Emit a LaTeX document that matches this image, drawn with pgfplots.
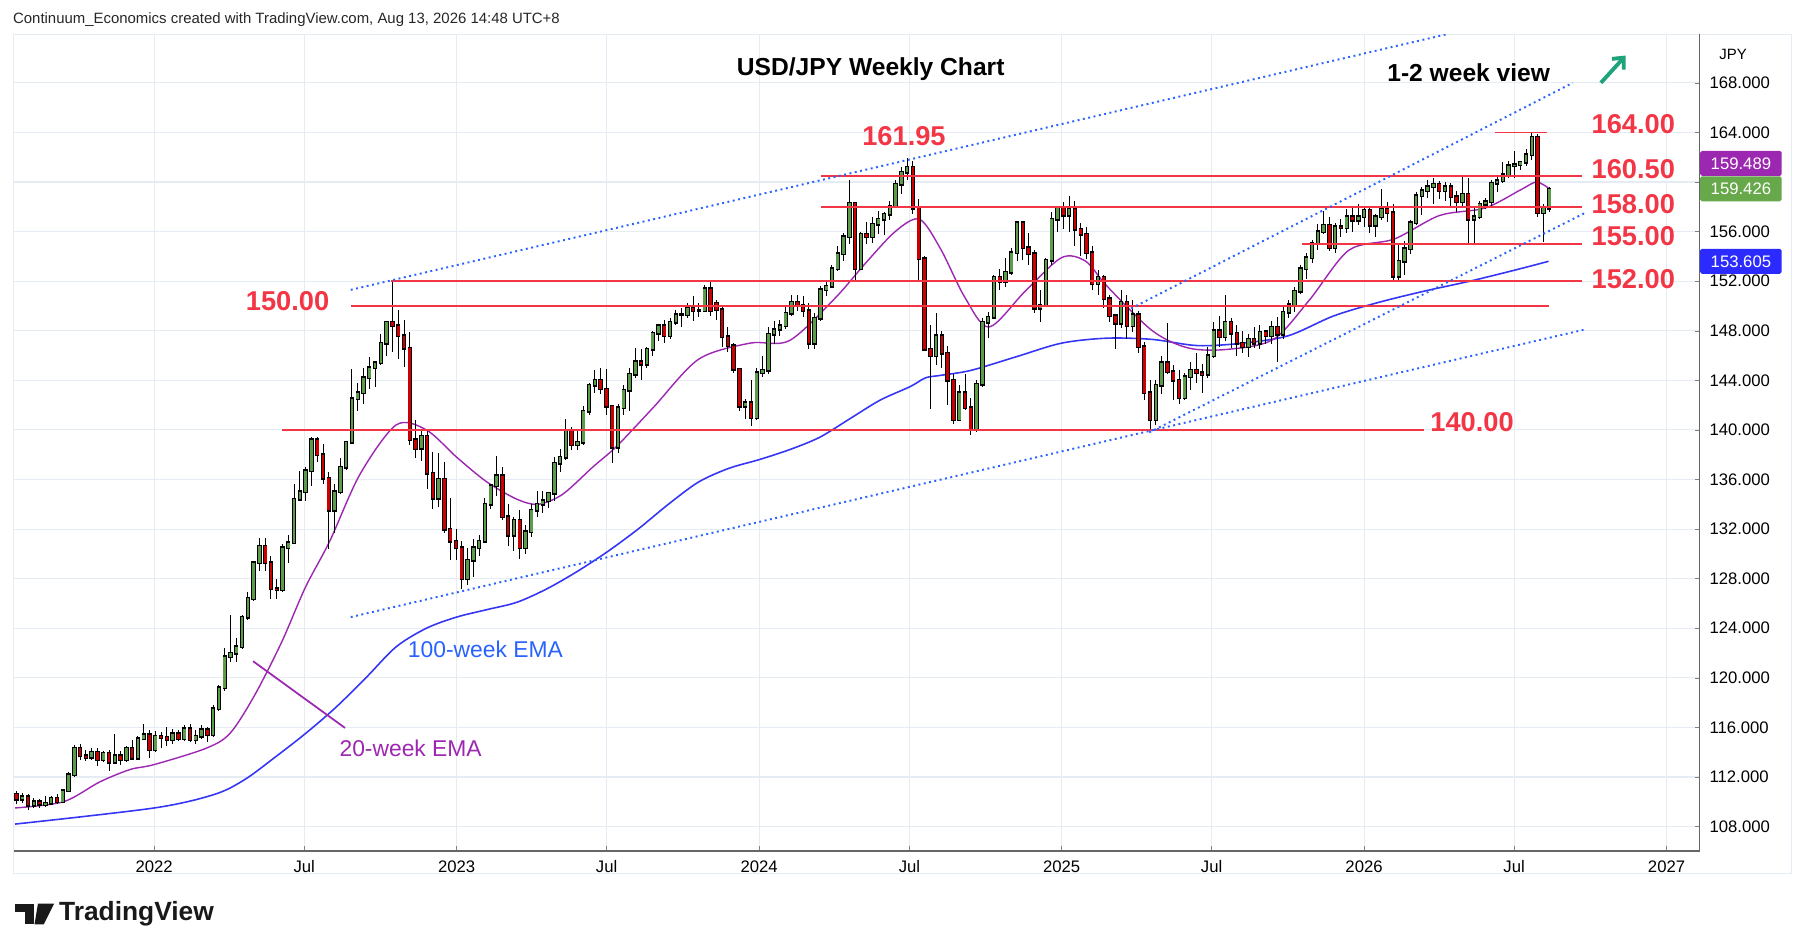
\documentclass[border=0pt]{standalone}
\usepackage{pgfplots}
\pgfplotsset{compat=1.18}
\usepackage{pgfplotstable}
\usetikzlibrary{arrows.meta}
\usepackage{fontspec}
\setmainfont{Liberation Sans}
\definecolor{cgreen}{HTML}{5B9B4A}
\definecolor{cred}{HTML}{CC0000}
\definecolor{lvl}{HTML}{F23645}
\definecolor{dotb}{HTML}{2962FF}
\definecolor{emap}{HTML}{9C27B0}
\definecolor{emab}{HTML}{3535F5}
\definecolor{gridc}{HTML}{E6ECF3}
\definecolor{boxg}{HTML}{66A84A}
\definecolor{boxb}{HTML}{2B2BFF}
\definecolor{arrg}{HTML}{1FA37A}
\pgfplotstableread{
o h l c
110.6 110.9 109.8 110.2
110.2 110.7 109.9 110.4
110.4 110.6 109.3 109.7
109.7 110.3 109.5 110.0
110.0 110.2 109.5 109.8
109.8 110.5 109.6 109.9
109.9 110.5 109.7 110.3
110.3 110.6 109.8 110.0
110.0 111.0 109.9 110.9
110.9 112.4 110.8 112.2
112.2 114.6 112.0 114.3
114.3 114.7 113.4 113.7
113.7 114.2 113.3 113.6
113.6 114.3 113.4 114.0
114.0 114.3 112.9 113.4
113.4 114.1 113.2 113.9
113.9 114.2 112.5 113.2
113.2 115.5 113.1 113.7
113.7 114.1 113.0 113.4
113.4 114.5 113.2 114.3
114.3 115.0 113.4 113.5
113.5 115.3 113.4 115.1
115.1 116.3 115.0 115.4
115.4 115.8 113.5 114.2
114.2 115.7 114.0 115.3
115.3 115.6 114.3 115.2
115.2 116.0 114.5 115.0
115.0 115.9 114.7 115.5
115.5 115.8 114.9 115.1
115.1 116.2 114.9 115.9
115.9 116.3 114.8 115.0
115.0 115.8 114.7 115.3
115.3 116.2 115.1 115.8
115.8 116.0 114.8 115.4
115.4 117.8 115.2 117.5
117.5 119.4 117.3 119.2
119.2 122.4 118.9 121.7
121.7 125.1 121.3 122.0
122.0 123.2 121.3 122.5
122.5 125.1 122.3 124.9
124.9 126.9 124.7 126.4
126.4 129.4 126.2 129.3
129.3 131.3 128.6 130.6
130.6 131.3 128.6 129.3
129.3 129.8 126.4 127.2
127.2 128.0 126.4 127.1
127.1 130.8 126.9 130.5
130.5 131.5 129.3 130.9
130.9 135.6 130.8 134.4
134.4 136.7 134.3 135.0
135.0 137.0 134.3 136.7
136.7 139.4 135.5 139.2
139.2 139.4 137.4 138.0
138.0 138.9 135.6 136.1
136.1 136.6 130.4 133.5
133.5 135.6 131.7 135.0
135.0 137.7 134.8 137.0
137.0 139.1 136.8 139.0
139.0 144.9 138.9 142.5
142.5 143.8 141.5 143.0
143.0 145.0 142.1 144.2
144.2 145.9 143.3 145.0
145.0 145.5 143.5 145.4
145.4 147.7 145.2 147.0
147.0 148.8 146.0 148.7
148.7 151.95 146.3 148.4
148.4 149.7 145.7 147.6
147.6 148.9 145.1 146.6
146.6 147.9 138.8 139.2
139.2 140.8 137.7 138.5
138.5 140.0 137.5 139.5
139.5 139.9 135.2 136.5
136.5 138.2 133.6 134.5
134.5 138.1 133.8 136.0
136.0 137.4 131.7 132.0
132.0 134.5 129.5 131.0
131.0 132.0 129.5 130.5
130.5 131.0 127.2 128.0
128.0 130.5 127.5 129.5
129.5 131.2 128.1 130.5
130.5 131.5 129.8 131.0
131.0 134.5 130.9 134.0
134.0 135.6 133.6 135.5
135.5 137.9 134.7 136.3
136.3 137.0 132.7 133.0
133.0 134.0 130.6 131.5
131.5 133.0 130.2 132.7
132.7 133.5 129.6 130.5
130.5 132.3 130.0 131.8
131.8 134.0 131.4 133.5
133.5 135.1 133.0 134.0
134.0 135.1 133.3 134.3
134.3 135.0 133.7 134.9
134.9 137.8 134.3 137.3
137.3 138.5 136.6 137.8
137.8 140.9 137.6 139.9
139.9 140.2 138.4 138.8
138.8 140.0 138.4 139.0
139.0 141.9 138.8 141.5
141.5 143.8 141.2 143.6
143.6 144.8 143.0 144.0
144.0 145.0 142.9 143.3
143.3 144.9 141.2 141.9
141.9 142.0 137.3 138.6
138.6 142.1 138.1 141.8
141.8 143.6 141.2 143.2
143.2 145.0 141.5 144.5
144.5 146.6 144.2 145.5
145.5 146.5 144.0 145.3
145.3 146.7 145.0 146.5
146.5 148.0 146.0 147.8
147.8 148.5 147.2 148.4
148.4 148.9 147.0 147.6
147.6 149.0 147.3 148.7
148.7 149.7 148.5 149.3
149.3 149.8 148.3 149.3
149.3 150.2 149.0 149.8
149.8 150.8 148.8 149.6
149.6 150.2 149.1 149.6
149.6 151.7 149.5 151.4
151.4 151.9 149.2 149.6
150.2 150.5 148.9 149.7
149.7 149.9 146.7 147.5
147.5 148.3 146.3 146.8
146.8 147.0 144.6 144.9
144.9 145.0 141.5 141.9
141.9 142.5 140.9 142.2
142.2 144.0 140.3 141.0
141.0 145.0 140.8 144.6
144.6 146.0 144.3 144.8
144.8 148.3 144.5 147.7
147.7 148.8 146.9 148.1
148.1 148.9 147.6 148.4
148.4 150.0 148.1 149.4
149.4 150.9 149.2 150.3
150.3 150.9 149.6 150.0
150.0 150.8 149.1 149.6
149.6 150.2 146.5 147.0
147.0 149.4 146.5 149.0
149.0 151.6 148.8 151.3
151.3 151.9 150.8 151.6
151.6 153.3 151.5 153.0
153.0 154.8 152.8 154.2
154.2 155.9 153.6 155.6
155.6 160.2 155.0 158.3
158.3 158.4 151.9 153.0
153.0 156.0 152.9 155.8
155.8 156.8 155.0 155.6
155.6 157.2 155.1 156.6
156.6 157.7 155.8 157.0
157.0 157.6 155.7 157.4
157.4 158.5 156.9 158.0
158.0 160.2 157.9 159.8
159.8 161.2 159.0 160.8
160.8 161.95 160.2 161.2
161.2 161.7 157.4 157.9
157.9 158.6 151.9 153.8
153.8 154.0 146.4 146.5
146.5 148.5 141.7 146.0
146.0 149.4 145.2 147.6
147.6 148.0 145.0 146.2
146.2 146.8 142.0 144.0
144.0 144.5 140.5 140.8
140.8 143.6 140.7 143.0
143.0 144.5 141.6 141.8
141.8 142.6 139.6 140.0
140.0 144.0 139.8 143.7
143.7 149.0 143.5 148.7
148.7 149.5 147.4 149.1
149.1 152.5 149.0 152.3
152.3 153.0 151.3 152.0
152.0 153.9 151.5 152.7
152.7 154.7 152.5 154.3
154.3 156.8 153.6 156.7
156.7 156.8 153.7 154.7
154.7 155.9 153.3 154.2
154.2 154.5 149.4 149.8
149.8 151.3 148.7 150.0
150.0 153.9 149.9 153.7
153.7 157.6 153.3 157.0
157.0 158.0 156.0 157.9
157.9 158.4 156.2 157.3
157.3 158.9 156.0 157.8
157.8 158.5 154.8 156.2
156.2 156.7 154.0 155.8
155.8 156.4 153.8 154.3
154.3 154.8 151.3 151.8
151.8 152.9 150.9 152.3
152.3 152.5 149.8 150.6
150.6 150.9 148.7 149.2
149.2 149.3 146.5 148.6
148.6 151.3 148.2 150.3
150.3 150.9 147.3 148.4
148.4 150.5 147.9 149.3
149.3 149.6 146.2 146.7
146.7 147.1 142.4 143.0
143.0 144.0 139.9 140.8
140.8 144.0 140.4 143.6
143.6 146.0 142.9 145.4
145.4 148.6 144.5 144.7
144.7 145.2 142.4 144.0
144.0 144.8 142.1 142.6
142.6 144.6 142.4 144.3
144.3 145.5 143.2 144.8
144.8 146.2 143.8 144.6
144.6 145.3 143.0 144.5
144.5 146.7 144.2 146.0
146.0 148.7 145.8 148.0
148.0 149.2 146.7 147.5
147.5 150.9 147.2 148.7
148.7 149.0 146.6 147.8
147.8 148.5 146.0 147.0
147.0 148.0 146.2 146.7
146.7 147.7 145.9 147.3
147.3 148.3 146.6 147.0
147.0 148.5 146.5 147.9
147.9 148.0 146.9 147.6
147.6 148.8 146.9 148.3
148.3 149.1 145.5 147.7
147.7 149.9 147.3 149.5
149.5 150.5 149.0 150.1
150.1 151.5 149.5 151.2
151.2 153.3 151.0 153.0
153.0 154.3 152.2 153.9
153.9 155.3 153.5 155.0
155.0 156.6 154.5 156.0
156.0 157.7 155.8 156.5
156.5 157.2 154.4 154.7
154.7 156.7 154.3 156.4
156.4 157.0 155.6 156.3
156.3 157.8 155.9 157.2
157.2 157.9 156.0 156.9
156.9 158.2 156.5 157.2
157.2 158.0 156.4 157.7
157.7 158.0 155.9 156.5
156.5 157.4 155.6 157.2
157.2 159.4 156.9 157.8
157.8 158.4 156.8 157.5
157.5 158.2 152.0 152.4
152.4 155.0 152.1 153.6
153.6 155.2 152.5 154.6
154.6 156.9 154.2 156.7
156.7 159.2 156.5 158.9
158.9 159.6 157.3 159.3
159.3 160.2 158.7 159.6
159.6 160.3 158.2 159.8
159.8 160.1 158.6 159.3
159.3 160.0 158.5 159.6
159.6 159.9 158.0 158.8
158.8 159.3 157.6 158.4
158.4 160.5 157.9 159.0
159.0 160.3 155.0 157.0
157.0 157.9 155.0 157.2
157.2 158.5 157.0 158.2
158.2 158.7 157.8 158.4
158.4 160.2 158.0 159.9
159.9 160.4 159.2 160.1
160.1 161.6 159.9 160.6
160.6 161.7 160.3 161.3
161.3 162.5 160.3 161.4
161.4 161.6 161.0 161.6
161.6 162.7 161.3 162.2
162.2 164.0 161.8 163.6
163.6 163.9 157.2 157.5
157.5 158.2 155.2 157.9
157.9 159.6 157.6 159.4
}\candles
\newcommand{\xe}{2021.545+\coordindex*0.019121}
\begin{document}
\begin{tikzpicture}
\path[use as bounding box] (0,0) rectangle (35.88cm,18.92cm);
\begin{scope}[x=0.023cm,y=-0.023cm,shift={(0,18.92cm)}]
\node[anchor=west,font=\fontsize{8.5}{10}\selectfont,text=black!85] at (6,17) {Continuum\_Economics created with TradingView.com, Aug 13, 2026 14:48 UTC+8};
\draw[gridc,line width=0.6pt] (12,30) rectangle (1558,760);
\node[anchor=west,font=\fontsize{8.5}{10}\selectfont] at (1490,47) {JPY};
\fill[black!90] (13,786) rectangle (30,793);
\fill[black!90] (22,786) rectangle (30,804);
\fill[black!90] (33,786) -- (47,786) -- (38,804) -- (30,804) -- cycle;
\node[anchor=west,font=\fontsize{15}{18}\selectfont\bfseries,text=black!90] at (46,795) {TradingView};
\end{scope}
\begin{axis}[at={(0.276cm,1.90cm)}, anchor=south west,
  width=33.72cm, height=16.33cm, scale only axis,
  xmin=2021.536, xmax=2027.11, ymin=106.03, ymax=171.9,
  axis line style={draw=black!60,line width=0.6pt},
  axis x line*=bottom, axis y line*=right,
  clip mode=individual,
  xtick={2022,2022.496,2023,2023.496,2024,2024.497,2025,2025.496,2026,2026.496,2027},
  xticklabels={2022,Jul,2023,Jul,2024,Jul,2025,Jul,2026,Jul,2027},
  ytick={108,112,...,168},
  yticklabels={108.000,112.000,116.000,120.000,124.000,128.000,132.000,136.000,140.000,144.000,148.000,152.000,156.000,,164.000,168.000},
  grid=major, grid style={gridc,line width=0.6pt},
  major tick length=3pt, tick style={black!50},
  xticklabel style={font=\fontsize{9.5}{11}\selectfont, yshift=-2pt},
  yticklabel style={font=\fontsize{9.5}{11}\selectfont, anchor=west, xshift=2pt},
  yticklabel pos=right,
]
% EMAs
\addplot[emab, line width=0.9pt, smooth] coordinates {(2021.54,108.2) (2022.0,109.5) (2022.2,110.6) (2022.3,111.8) (2022.4,113.6) (2022.5,115.5) (2022.6,117.6) (2022.7,120.0) (2022.8,122.5) (2022.9,124.0) (2023.0,124.9) (2023.1,125.5) (2023.2,126.1) (2023.3,127.2) (2023.4,128.6) (2023.5,130.2) (2023.6,132.0) (2023.7,134.0) (2023.8,135.8) (2023.9,136.9) (2024.0,137.6) (2024.1,138.4) (2024.2,139.4) (2024.3,140.9) (2024.4,142.4) (2024.5,143.5) (2024.55,144.2) (2024.6,144.4) (2024.7,144.8) (2024.85,145.9) (2025.0,147.0) (2025.15,147.4) (2025.3,147.3) (2025.45,146.8) (2025.6,147.0) (2025.75,147.6) (2025.9,149.2) (2026.05,150.3) (2026.2,151.2) (2026.35,152.0) (2026.5,152.9) (2026.61,153.6)};
\addplot[emap, line width=0.8pt, smooth] coordinates {(2021.54,109.5) (2021.7,110.0) (2021.82,111.6) (2021.92,112.6) (2022.0,113.0) (2022.17,114.3) (2022.25,115.5) (2022.33,118.5) (2022.42,122.8) (2022.5,127.3) (2022.58,131.0) (2022.68,136.4) (2022.8,140.4) (2022.9,140.0) (2023.0,137.8) (2023.1,135.8) (2023.2,134.4) (2023.27,134.0) (2023.35,134.8) (2023.45,137.0) (2023.53,138.7) (2023.65,141.8) (2023.8,145.7) (2023.97,147.0) (2024.1,147.2) (2024.25,150.6) (2024.35,153.4) (2024.45,156.0) (2024.53,157.0) (2024.6,154.6) (2024.68,150.7) (2024.76,148.3) (2024.88,151.2) (2025.0,153.9) (2025.08,153.6) (2025.15,151.6) (2025.3,148.0) (2025.42,146.6) (2025.55,146.5) (2025.7,147.3) (2025.82,150.5) (2025.95,154.5) (2026.1,155.4) (2026.25,157.3) (2026.4,157.9) (2026.52,159.4) (2026.57,160.0) (2026.61,159.5)};
% candles: wicks
\addplot[draw=none, no markers, error bars/.cd, y dir=both, y explicit, error mark=none, error bar style={line width=0.55pt,black}]
  table[x expr={\xe}, y expr={(\thisrow{h}+\thisrow{l})/2}, y error expr={(\thisrow{h}-\thisrow{l})/2}] {\candles};
% up bodies
\addplot[draw=none, no markers, error bars/.cd, y dir=both, y explicit, error mark=none, error bar style={line width=2.5pt,black}]
  table[x expr={\xe}, y expr={\thisrow{c}>=\thisrow{o} ? (\thisrow{o}+\thisrow{c})/2 : nan}, y error expr={abs(\thisrow{c}-\thisrow{o})/2+0.12}] {\candles};
\addplot[draw=none, no markers, error bars/.cd, y dir=both, y explicit, error mark=none, error bar style={line width=1.5pt,cgreen}]
  table[x expr={\xe}, y expr={\thisrow{c}>=\thisrow{o} ? (\thisrow{o}+\thisrow{c})/2 : nan}, y error expr={abs(\thisrow{c}-\thisrow{o})/2}] {\candles};
% down bodies
\addplot[draw=none, no markers, error bars/.cd, y dir=both, y explicit, error mark=none, error bar style={line width=2.5pt,black}]
  table[x expr={\xe}, y expr={\thisrow{c}<\thisrow{o} ? (\thisrow{o}+\thisrow{c})/2 : nan}, y error expr={abs(\thisrow{c}-\thisrow{o})/2+0.12}] {\candles};
\addplot[draw=none, no markers, error bars/.cd, y dir=both, y explicit, error mark=none, error bar style={line width=1.5pt,cred}]
  table[x expr={\xe}, y expr={\thisrow{c}<\thisrow{o} ? (\thisrow{o}+\thisrow{c})/2 : nan}, y error expr={abs(\thisrow{c}-\thisrow{o})/2}] {\candles};
% level lines
\addplot[lvl, line width=1pt] coordinates {(2026.433,164) (2026.604,164)};
\addplot[lvl, line width=1pt] coordinates {(2024.205,160.5) (2026.719,160.5)};
\addplot[lvl, line width=1pt] coordinates {(2024.205,158) (2026.719,158)};
\addplot[lvl, line width=1pt] coordinates {(2025.795,155) (2026.719,155)};
\addplot[lvl, line width=1pt] coordinates {(2022.783,152) (2026.719,152)};
\addplot[lvl, line width=1pt] coordinates {(2022.65,150) (2026.612,150)};
\addplot[lvl, line width=1pt] coordinates {(2022.422,140) (2026.198,140)};
% channel lines
\addplot[dotb, line width=1.1pt, dotted] coordinates {(2022.65,151.3) (2026.27,171.9)};
\addplot[dotb, line width=1.1pt, dotted] coordinates {(2025.23,149.8) (2026.69,168.0)};
\addplot[dotb, line width=1.1pt, dotted] coordinates {(2025.29,139.8) (2026.73,157.5)};
\addplot[dotb, line width=1.1pt, dotted] coordinates {(2022.65,124.9) (2026.73,148.1)};
% annotations
\node[font=\fontsize{14}{16}\selectfont\bfseries] at (axis cs:2024.369,169.1) {USD/JPY Weekly Chart};
\node[font=\fontsize{14}{16}\selectfont\bfseries] at (axis cs:2026.346,168.8) {1-2 week view};
\draw[arrg, line width=2.2pt, -{Straight Barb[length=5pt,width=9pt]}] (axis cs:2026.783,168.0) -- (axis cs:2026.865,170.2);
\begin{scope}[every node/.style={font=\fontsize{15.5}{18}\selectfont\bfseries, text=lvl}]
\node at (axis cs:2024.479,163.7) {161.95};
\node at (axis cs:2022.441,150.4) {150.00};
\node at (axis cs:2026.89,164.65) {164.00};
\node at (axis cs:2026.89,161.0) {160.50};
\node at (axis cs:2026.89,158.2) {158.00};
\node at (axis cs:2026.89,155.66) {155.00};
\node at (axis cs:2026.89,152.2) {152.00};
\node at (axis cs:2026.357,140.6) {140.00};
\end{scope}
\node[font=\fontsize{13}{15}\selectfont, text=dotb] at (axis cs:2023.095,122.3) {100-week EMA};
\node[font=\fontsize{13}{15}\selectfont, text=emap] at (axis cs:2022.848,114.3) {20-week EMA};
\draw[emap, line width=1pt] (axis cs:2022.327,121.34) -- (axis cs:2022.631,115.96);
% price boxes
\begin{scope}[every node/.style={font=\fontsize{9.5}{11}\selectfont, text=white, anchor=west, minimum height=0.5cm, minimum width=1.63cm, inner sep=2pt, rounded corners=1pt}]
\node[fill=emap] at (axis cs:2027.11,161.5) {159.489};
\node[fill=boxg] at (axis cs:2027.11,159.45) {159.426};
\node[fill=boxb] at (axis cs:2027.11,153.605) {153.605};
\end{scope}
\end{axis}
\end{tikzpicture}
\end{document}
